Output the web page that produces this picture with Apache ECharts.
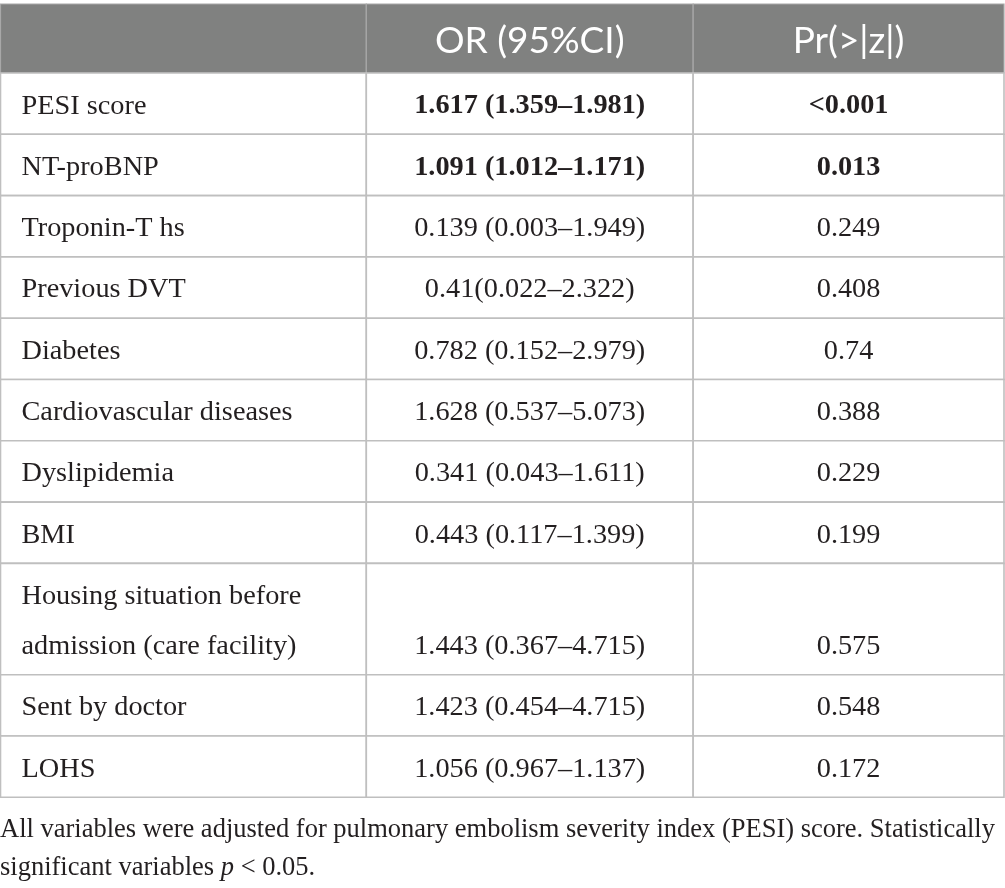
<!DOCTYPE html>
<html>
<head>
<meta charset="utf-8">
<script src="https://cdn.jsdelivr.net/npm/echarts@6/dist/echarts.min.js"></script>
<style>
  html, body { margin: 0; padding: 0; background: #fff; }
  #table { width: 1005px; height: 888px; }
</style>
</head>
<body>
<div id="table"></div>
<script>
// table content
var headers = ['', 'OR (95%CI)', 'Pr(>|z|)'];
var variables = [
  'PESI score',
  'NT-proBNP',
  'Troponin-T hs',
  'Previous DVT',
  'Diabetes',
  'Cardiovascular diseases',
  'Dyslipidemia',
  'BMI',
  'Housing situation before\nadmission (care facility)',
  'Sent by doctor',
  'LOHS'
];
var orCI = [
  '1.617 (1.359–1.981)',
  '1.091 (1.012–1.171)',
  '0.139 (0.003–1.949)',
  '0.41(0.022–2.322)',
  '0.782 (0.152–2.979)',
  '1.628 (0.537–5.073)',
  '0.341 (0.043–1.611)',
  '0.443 (0.117–1.399)',
  '1.443 (0.367–4.715)',
  '1.423 (0.454–4.715)',
  '1.056 (0.967–1.137)'
];
var pValues = ['<0.001', '0.013', '0.249', '0.408', '0.74', '0.388', '0.229', '0.199', '0.575', '0.548', '0.172'];
var significant = [true, true, false, false, false, false, false, false, false, false, false];
var footnote = 'All variables were adjusted for pulmonary embolism severity index (PESI) score. Statistically\nsignificant variables {i|p} < 0.05.';

// layout (in pixel-like axis units)
var colEdges = [0, 366, 693, 1004];
var headerHeight = 69;
var rowHeight = 61.3;
var lineGap = 50;

var rowEdges = [0, headerHeight];
variables.forEach(function (v) {
  var lines = v.split('\n').length;
  var h = lines > 1 ? rowHeight + (lines - 1) * lineGap : rowHeight;
  rowEdges.push(rowEdges[rowEdges.length - 1] + h);
});
var tableHeight = rowEdges[rowEdges.length - 1];

// cells: [col, row, text, bold, header]
var cells = [];
headers.forEach(function (h, c) { cells.push([c, 0, h, false, true]); });
variables.forEach(function (v, r) {
  cells.push([0, r + 1, v, false, false]);
  cells.push([1, r + 1, orCI[r], significant[r], false]);
  cells.push([2, r + 1, pValues[r], significant[r], false]);
});

var serif = '"Liberation Serif", "DejaVu Serif", serif';
var sans = 'Lato, "Open Sans", sans-serif';

var chart = echarts.init(document.getElementById('table'));
var option = {
  animation: false,
  grid: { left: 0.5, top: 4, width: 1003.5, height: tableHeight },
  xAxis: { type: 'value', min: 0, max: colEdges[3], show: false },
  yAxis: { type: 'value', min: 0, max: tableHeight, inverse: true, show: false },
  title: {
    text: footnote,
    left: 0,
    top: 811,
    padding: 0,
    textStyle: {
      fontFamily: serif,
      fontSize: 26.5,
      fontWeight: 'normal',
      color: '#231f20',
      lineHeight: 38,
      rich: {
        i: { fontFamily: serif, fontSize: 26.5, fontStyle: 'italic', color: '#231f20', lineHeight: 38 }
      }
    }
  },
  series: [{
    type: 'custom',
    coordinateSystem: 'cartesian2d',
    data: cells,
    encode: { x: 0, y: 1 },
    renderItem: function (params, api) {
      var c = api.value(0), r = api.value(1);
      var cell = cells[params.dataIndex];
      var text = cell[2], bold = cell[3], isHeader = cell[4];
      var p0 = api.coord([colEdges[c], rowEdges[r]]);
      var p1 = api.coord([colEdges[c + 1], rowEdges[r + 1]]);
      var x = p0[0], y = p0[1], w = p1[0] - p0[0], h = p1[1] - p0[1];
      var cy = y + h / 2 + 2.5;
      var multi = !isHeader && c > 0 && variables[r - 1].indexOf('\n') >= 0;
      if (multi) cy = y + h - rowHeight / 2 + 2.5;
      var tx = c === 0 ? x + 21 : x + w / 2;
      var children = [{
        type: 'rect',
        shape: { x: x, y: y, width: w, height: h },
        style: { fill: isHeader ? '#808180' : '#fff', stroke: isHeader ? '#a8a8a8' : '#bfbfbf', lineWidth: isHeader ? 1.2 : 1.6 }
      }];
      if (text) {
        children.push({
          type: 'text',
          x: tx,
          y: isHeader ? y + h / 2 + 3 : cy,
          style: {
            text: text,
            align: c === 0 ? 'left' : 'center',
            verticalAlign: 'middle',
            fontFamily: isHeader ? sans : serif,
            fontSize: isHeader ? 37 : 28.3,
            fontWeight: bold ? 'bold' : 'normal',
            fill: isHeader ? '#fff' : '#231f20',
            lineHeight: isHeader ? 40 : lineGap
          }
        });
      }
      return { type: 'group', children: children };
    }
  }]
};
chart.setOption(option);
</script>
</body>
</html>
